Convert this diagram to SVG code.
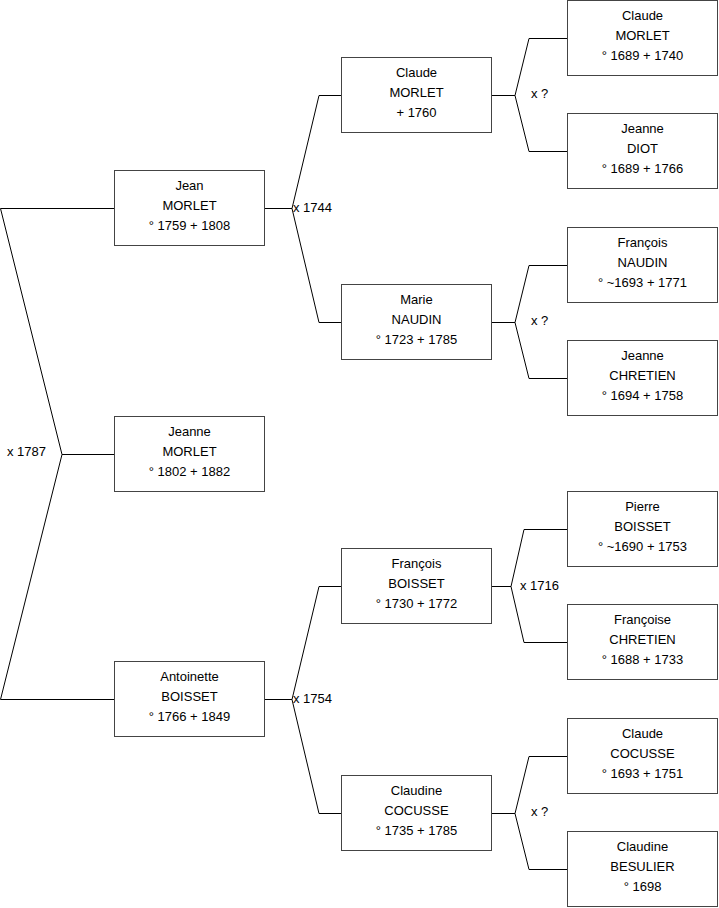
<svg xmlns="http://www.w3.org/2000/svg" width="719" height="908" viewBox="0 0 719 908">
<style>
.b{fill:#fff;stroke:#444;stroke-width:1}
.t{font-family:"Liberation Sans",Arial,sans-serif;font-size:13px;fill:#000;text-anchor:middle}
.l{font-family:"Liberation Sans",Arial,sans-serif;font-size:13px;fill:#000}
.c{fill:none;stroke:#000;stroke-width:1}
</style>
<rect width="719" height="908" fill="#fff"/>
<g id="connectors">
<polyline class="c" points="114,208.5 0.5,208.5 62,454.5 0.5,699.5 114,699.5"/>
<line class="c" x1="62" y1="454.5" x2="114" y2="454.5"/>
<polyline class="c" points="341,95.5 319,95.5 292,208.5 319,322.5 341,322.5"/>
<line class="c" x1="265" y1="208.5" x2="292" y2="208.5"/>
<polyline class="c" points="341,586.5 319,586.5 292,699.5 319,813.5 341,813.5"/>
<line class="c" x1="265" y1="699.5" x2="292" y2="699.5"/>
<polyline class="c" points="567,38.5 529,38.5 515,95.5 529,151.5 567,151.5"/>
<line class="c" x1="492" y1="95.5" x2="515" y2="95.5"/>
<polyline class="c" points="567,265.5 529,265.5 515,322.5 529,378.5 567,378.5"/>
<line class="c" x1="492" y1="322.5" x2="515" y2="322.5"/>
<polyline class="c" points="567,529.5 524,529.5 511,586.5 524,642.5 567,642.5"/>
<line class="c" x1="492" y1="586.5" x2="511" y2="586.5"/>
<polyline class="c" points="567,756.5 529,756.5 515,813.5 529,869.5 567,869.5"/>
<line class="c" x1="492" y1="813.5" x2="515" y2="813.5"/>
<text class="l" x="7" y="456">x 1787</text>
<text class="l" x="293" y="212">x 1744</text>
<text class="l" x="293" y="703">x 1754</text>
<text class="l" x="531" y="98">x ?</text>
<text class="l" x="531" y="325">x ?</text>
<text class="l" x="520" y="590">x 1716</text>
<text class="l" x="531" y="816">x ?</text>
</g>
<g id="jean"><rect class="b" x="114.5" y="170.5" width="150" height="75"/><text class="t" x="189.5" y="190">Jean</text><text class="t" x="189.5" y="210">MORLET</text><text class="t" x="189.5" y="230">° 1759 + 1808</text></g>
<g id="jeanne"><rect class="b" x="114.5" y="416.5" width="150" height="75"/><text class="t" x="189.5" y="436">Jeanne</text><text class="t" x="189.5" y="456">MORLET</text><text class="t" x="189.5" y="476">° 1802 + 1882</text></g>
<g id="antoinette"><rect class="b" x="114.5" y="661.5" width="150" height="75"/><text class="t" x="189.5" y="681">Antoinette</text><text class="t" x="189.5" y="701">BOISSET</text><text class="t" x="189.5" y="721">° 1766 + 1849</text></g>
<g id="claude1"><rect class="b" x="341.5" y="57.5" width="150" height="75"/><text class="t" x="416.5" y="77">Claude</text><text class="t" x="416.5" y="97">MORLET</text><text class="t" x="416.5" y="117">+ 1760</text></g>
<g id="marie"><rect class="b" x="341.5" y="284.5" width="150" height="75"/><text class="t" x="416.5" y="304">Marie</text><text class="t" x="416.5" y="324">NAUDIN</text><text class="t" x="416.5" y="344">° 1723 + 1785</text></g>
<g id="francois1"><rect class="b" x="341.5" y="548.5" width="150" height="75"/><text class="t" x="416.5" y="568">François</text><text class="t" x="416.5" y="588">BOISSET</text><text class="t" x="416.5" y="608">° 1730 + 1772</text></g>
<g id="claudine1"><rect class="b" x="341.5" y="775.5" width="150" height="75"/><text class="t" x="416.5" y="795">Claudine</text><text class="t" x="416.5" y="815">COCUSSE</text><text class="t" x="416.5" y="835">° 1735 + 1785</text></g>
<g id="claude2"><rect class="b" x="567.5" y="0.5" width="150" height="75"/><text class="t" x="642.5" y="20">Claude</text><text class="t" x="642.5" y="40">MORLET</text><text class="t" x="642.5" y="60">° 1689 + 1740</text></g>
<g id="jeanne2"><rect class="b" x="567.5" y="113.5" width="150" height="75"/><text class="t" x="642.5" y="133">Jeanne</text><text class="t" x="642.5" y="153">DIOT</text><text class="t" x="642.5" y="173">° 1689 + 1766</text></g>
<g id="francois2"><rect class="b" x="567.5" y="227.5" width="150" height="75"/><text class="t" x="642.5" y="247">François</text><text class="t" x="642.5" y="267">NAUDIN</text><text class="t" x="642.5" y="287">° ~1693 + 1771</text></g>
<g id="jeanne3"><rect class="b" x="567.5" y="340.5" width="150" height="75"/><text class="t" x="642.5" y="360">Jeanne</text><text class="t" x="642.5" y="380">CHRETIEN</text><text class="t" x="642.5" y="400">° 1694 + 1758</text></g>
<g id="pierre"><rect class="b" x="567.5" y="491.5" width="150" height="75"/><text class="t" x="642.5" y="511">Pierre</text><text class="t" x="642.5" y="531">BOISSET</text><text class="t" x="642.5" y="551">° ~1690 + 1753</text></g>
<g id="francoise"><rect class="b" x="567.5" y="604.5" width="150" height="75"/><text class="t" x="642.5" y="624">Françoise</text><text class="t" x="642.5" y="644">CHRETIEN</text><text class="t" x="642.5" y="664">° 1688 + 1733</text></g>
<g id="claude3"><rect class="b" x="567.5" y="718.5" width="150" height="75"/><text class="t" x="642.5" y="738">Claude</text><text class="t" x="642.5" y="758">COCUSSE</text><text class="t" x="642.5" y="778">° 1693 + 1751</text></g>
<g id="claudine2"><rect class="b" x="567.5" y="831.5" width="150" height="75"/><text class="t" x="642.5" y="851">Claudine</text><text class="t" x="642.5" y="871">BESULIER</text><text class="t" x="642.5" y="891">° 1698</text></g>
</svg>
